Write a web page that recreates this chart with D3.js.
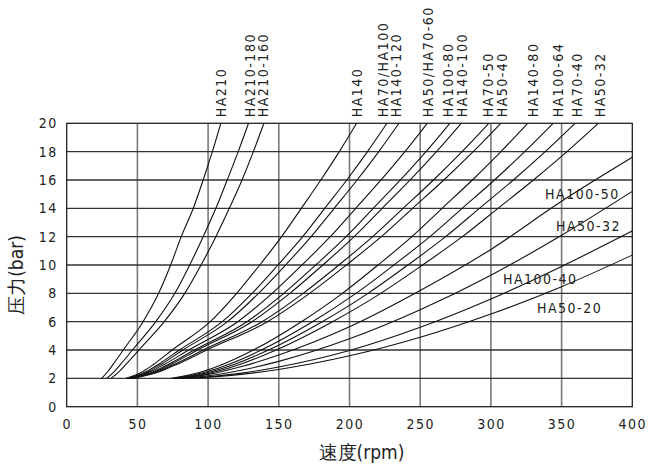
<!DOCTYPE html>
<html>
<head>
<meta charset="utf-8">
<script src="https://cdn.jsdelivr.net/npm/d3@7"></script>
<style>
  body { margin: 0; background: #fff; }
  text { font-family: 'Liberation Sans Narrow', 'DejaVu Sans Condensed', sans-serif; fill: #222; }
</style>
</head>
<body>
<svg class="chart"></svg>
<script>
var pressureLevels = [2, 2.5, 3, 4, 6, 8, 10, 12, 14, 16, 18, 20];

// curves that run out of the top of the chart, rpm at each pressure level
var steepNames = ["HA210", "HA210-180", "HA210-160", "HA140", "HA70/HA100", "HA140-120",
  "HA50/HA70-60", "HA100-80", "HA140-100", "HA70-50", "HA50-40", "HA140-80",
  "HA100-64", "HA70-40", "HA50-32"];
var steepRpm = [
  [24.7, 29.2, 32.9, 40, 54, 65, 73.5, 81, 89.5, 96.5, 103, 109],
  [28.3, 33.8, 38.2, 46.5, 63, 76.5, 87, 96.5, 105.5, 113.5, 121.3, 128.6],
  [31.3, 37.3, 42, 51, 69, 83.5, 95, 105.5, 115, 124, 132, 139.5],
  [42, 54.2, 61.6, 74.6, 101.5, 120.2, 136.5, 152, 165.9, 179.7, 192.8, 205],
  [43, 56.8, 65, 79.7, 110, 131.1, 149.4, 166.9, 182.5, 198.1, 212.7, 226.5],
  [44, 58.3, 66.9, 82.2, 113.7, 135.7, 154.8, 172.9, 189.2, 205.4, 220.7, 235],
  [44, 59.8, 69.3, 86.2, 121, 145.3, 166.4, 186.4, 204.4, 222.3, 239.2, 255],
  [45, 62, 72.1, 90.2, 127.5, 153.5, 176.1, 197.6, 216.8, 236, 254.1, 271],
  [46, 63.5, 74, 92.6, 131, 157.8, 181.1, 203.3, 223.1, 242.9, 261.5, 279],
  [46, 64.9, 76.3, 96.5, 138.2, 167.2, 192.5, 216.4, 237.9, 259.4, 279.6, 298.5],
  [47, 66.5, 78.2, 99, 141.9, 171.8, 197.8, 222.5, 244.6, 266.7, 287.5, 307],
  [74, 96.7, 110.5, 132, 166, 195, 220.2, 244.1, 265.5, 286.9, 307.1, 326],
  [76, 100.1, 114.9, 137.6, 173.8, 204.6, 231.4, 256.9, 279.7, 302.5, 323.9, 344],
  [78, 103.3, 118.8, 142.7, 180.7, 213.1, 241.3, 268, 291.9, 315.9, 338.4, 359.5],
  [80, 106.6, 122.9, 148.1, 188, 222.1, 251.7, 279.8, 305, 330.1, 353.8, 376]
];
// where the rotated name of each steep curve sits (rpm)
var steepLabelRpm = [108.9, 129.6, 138.6, 205.1, 223.5, 232.9, 255.7, 269.9, 279.3,
  298.2, 307.6, 330, 347.7, 360.7, 377.2];

// curves that leave through the right edge, bar at each rpm
var flatNames = ["HA100-50", "HA50-32", "HA100-40", "HA50-20"];
var flatRpm = [78, 100, 125, 150, 200, 250, 300, 350, 400];
var flatBar = [
  [2, 2.28, 2.87, 3.65, 5.64, 8.2, 11.1, 14.5, 17.6],
  [2, 2.18, 2.61, 3.2, 4.79, 6.84, 9.28, 12.1, 15.2],
  [2, 2.11, 2.39, 2.8, 3.96, 5.6, 7.6, 9.9, 12.4],
  [2, 2.08, 2.3, 2.63, 3.59, 4.9, 6.54, 8.47, 10.7]
];
var flatLabelRpm = [338.3, 346, 308.5, 332.6];
var flatLabelBar = [15.0, 12.75, 9.0, 7.0];

var xTicks = [0, 50, 100, 150, 200, 250, 300, 350, 400];
var yTicks = [0, 2, 4, 6, 8, 10, 12, 14, 16, 18, 20];

var margin = {top: 123.3, right: 21.7, bottom: 60.3, left: 66.7},
    width = 654 - margin.left - margin.right,
    height = 467 - margin.top - margin.bottom;

var svg = d3.select(".chart")
    .attr("width", 654)
    .attr("height", 467)
    .append("g")
    .attr("transform", "translate(" + margin.left + "," + margin.top + ")");

var x = d3.scaleLinear().domain([0, 400]).range([0, width]);
var y = d3.scaleLinear().domain([0, 20]).range([height, 0]);

// grid
svg.selectAll(".vgrid").data(xTicks.slice(1, -1)).enter()
    .append("line")
    .attr("x1", function(d) { return x(d); })
    .attr("x2", function(d) { return x(d); })
    .attr("y1", 0).attr("y2", height)
    .attr("stroke", "#7a7a7a").attr("stroke-width", 1.6);

svg.selectAll(".hgrid").data(yTicks.slice(1, -1)).enter()
    .append("line")
    .attr("x1", 0).attr("x2", width)
    .attr("y1", function(d) { return y(d); })
    .attr("y2", function(d) { return y(d); })
    .attr("stroke", "#333").attr("stroke-width", 1.3);

svg.append("rect")
    .attr("width", width).attr("height", height)
    .attr("fill", "none").attr("stroke", "#222").attr("stroke-width", 1.3);

// axes (labels only)
var xAxis = svg.append("g")
    .attr("transform", "translate(0," + height + ")")
    .call(d3.axisBottom(x).tickValues(xTicks).tickSize(0).tickPadding(12));
var yAxis = svg.append("g")
    .call(d3.axisLeft(y).tickValues(yTicks).tickSize(0).tickPadding(9));
[xAxis, yAxis].forEach(function(a) {
    a.select(".domain").remove();
    a.selectAll("text").attr("font-size", 14).attr("letter-spacing", 1.5)
        .attr("font-family", "'Liberation Sans Narrow', 'DejaVu Sans Condensed', sans-serif")
        .attr("fill", "#222");
});

// curves
var line = d3.line()
    .x(function(d) { return x(d[0]); })
    .y(function(d) { return y(d[1]); })
    .curve(d3.curveMonotoneX);

var curveGroup = svg.append("g");
steepRpm.forEach(function(rpms) {
    var pts = rpms.map(function(r, i) { return [r, pressureLevels[i]]; });
    curveGroup.append("path").attr("d", line(pts))
        .attr("fill", "none").attr("stroke", "#111").attr("stroke-width", 1.1);
});
flatBar.forEach(function(bars) {
    var pts = bars.map(function(b, i) { return [flatRpm[i], b]; });
    curveGroup.append("path").attr("d", line(pts))
        .attr("fill", "none").attr("stroke", "#111").attr("stroke-width", 1.1);
});

// curve names on top, rotated
svg.selectAll(".toplabel").data(steepNames).enter()
    .append("text")
    .attr("transform", function(d, i) {
        return "translate(" + x(steepLabelRpm[i]) + "," + (-6) + ") rotate(-90)";
    })
    .attr("dy", "0.36em")
    .attr("font-size", 14)
    .attr("letter-spacing", 1.5)
    .text(function(d) { return d; });

// curve names on the right
svg.selectAll(".rightlabel").data(flatNames).enter()
    .append("text")
    .attr("x", function(d, i) { return x(flatLabelRpm[i]); })
    .attr("y", function(d, i) { return y(flatLabelBar[i]); })
    .attr("dy", "0.36em")
    .attr("font-size", 14)
    .attr("letter-spacing", 1.5)
    .text(function(d) { return d; });

// axis titles
svg.append("text")
    .attr("x", width / 2 + 12)
    .attr("y", height + 52)
    .attr("text-anchor", "middle")
    .attr("font-size", 19)
    .attr("font-family", "'Noto Sans CJK SC', sans-serif")
    .attr("font-weight", 300)
    .text("速度(rpm)");

svg.append("text")
    .attr("transform", "translate(" + (-44) + "," + (height / 2 + 10) + ") rotate(-90)")
    .attr("text-anchor", "middle")
    .attr("font-size", 19)
    .attr("font-family", "'Noto Sans CJK SC', sans-serif")
    .attr("font-weight", 300)
    .text("压力(bar)");
</script>
</body>
</html>
